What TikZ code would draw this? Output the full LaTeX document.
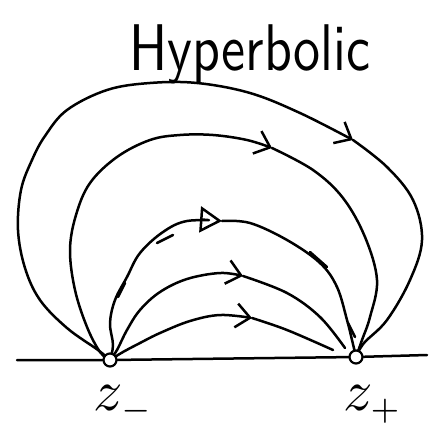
\documentclass[tikz,border=0pt]{standalone}
\usepackage{amsmath, amssymb}
\usepackage{tikz}
\usetikzlibrary{positioning, arrows.meta, backgrounds}

\begin{document}
\begin{tikzpicture}[
  x=1pt, y=-1pt,
  pen/.style={line width=2.5pt, line cap=round, line join=round},
  pen,
  every on background layer/.style={pen},
  barb/.style={-{Straight Barb[length=14pt, width=24pt]}},
  hollow/.style={-{Triangle[open, length=22pt, width=26pt]}},
  flow/.style={smooth, tension=0.6},
  pole/.style={draw, circle, fill=white, minimum size=13pt, inner sep=0pt, line width=2.2pt},
  tag/.style={anchor=base west, inner sep=0pt}
]
  \useasboundingbox (0,0) rectangle (433,423);

  % Title
  \node[tag] (title) at (128,70) {\scalebox{5.4}[6.6]{\sffamily Hyperbolic}};

  % The two fixed points on the real axis
  \node[pole] (zm) at (110,360) {};
  \node[pole] (zp) at (356,357) {};
  \node[tag] (zmlab) at (92,410) {\scalebox{5.8}{$z_{\scriptscriptstyle -}$}};
  \node[tag] (zplab) at (342,410) {\scalebox{5.8}{$z_{\scriptscriptstyle +}$}};

  % Arrow positions along the flow lines
  \coordinate (arr1) at (353,140);
  \coordinate (arr2) at (272,148);
  \coordinate (arr3) at (222,221);
  \coordinate (arr4) at (243,276);
  \coordinate (arr5) at (252,318);
  \coordinate (end4) at (345,348);
  \coordinate (end5) at (333,350);
  \coordinate (axL) at (17,360);
  \coordinate (axR) at (427,355);

  \begin{scope}[on background layer]
    % real axis
    \draw (axL) -- (zm) -- (zp) -- (axR);

    % outer flow line
    \draw[barb] plot[flow] coordinates {(zm) (98,350) (67,328) (40,300) (25,268) (18,230) (21,190) (32,160) (45,136) (67,110) (107,90) (150,83) (197,83) (250,93) (300,113) (arr1)};
    \draw plot[flow] coordinates {(arr1) (387,167) (413,200) (422,240) (410,280) (387,320) (364,343) (zp)};

    % second flow line
    \draw[barb] plot[flow] coordinates {(zm) (100,352) (87,327) (75,290) (70,250) (76,215) (90,183) (117,157) (150,140) (180,135) (213,135) (247,140) (arr2)};
    \draw plot[flow] coordinates {(arr2) (313,170) (343,198) (365,237) (377,280) (370,317) (362,340) (zp)};

    % third flow line
    \draw[hollow] plot[flow] coordinates {(zm) (113,345) (110,323) (115,300) (127,277) (140,253) (163,232) (187,221) (arr3)};
    \draw plot[flow] coordinates {(arr3) (250,223) (287,240) (320,263) (337,287) (347,320) (352,340) (zp)};

    % fourth flow line
    \draw[barb] plot[flow] coordinates {(zm) (117,350) (127,330) (140,310) (160,292) (187,279) (220,273) (arr4)};
    \draw plot[flow] coordinates {(arr4) (287,293) (320,317) (end4)};

    % inner flow line
    \draw[barb] plot[flow] coordinates {(zm) (123,352) (140,343) (160,333) (190,321) (220,315) (arr5)};
    \draw plot[flow] coordinates {(arr5) (287,330) (end5)};

    % retraced bits of the pen
    \draw (157,243) -- (173,235);
    \draw (118,297) -- (125,283);
    \draw (310,252) -- (327,267);
    \draw (348,323) -- (355,337);
  \end{scope}
\end{tikzpicture}
\end{document}
